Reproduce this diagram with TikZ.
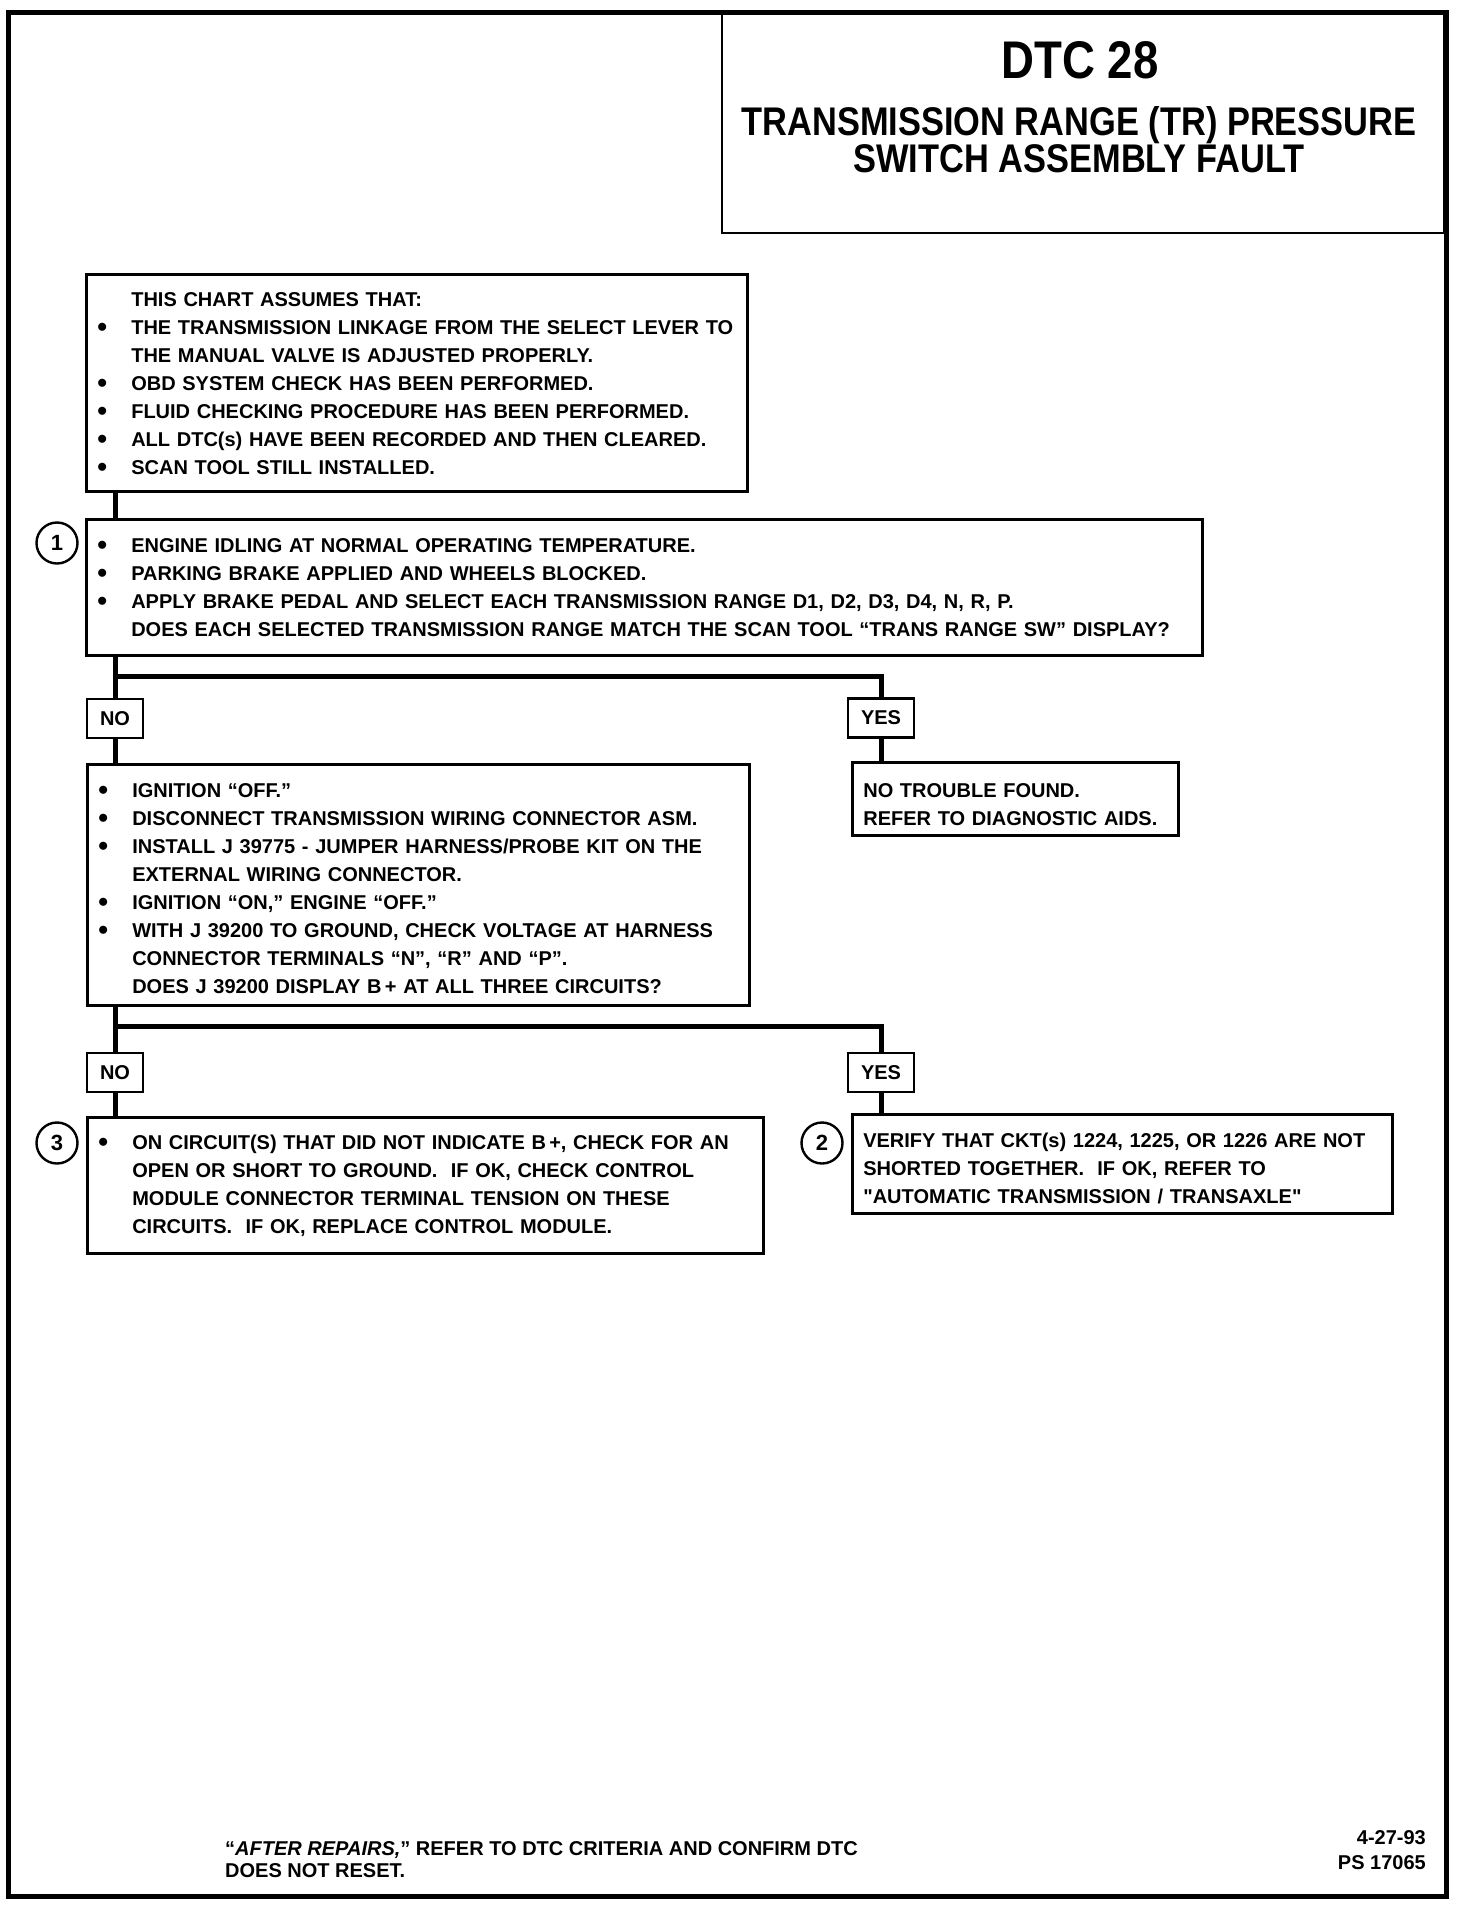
\documentclass[tikz,border=0pt]{standalone}
\usepackage{fontspec}
\setmainfont{Liberation Sans}
\newfontfamily\headfont{Liberation Sans}[FakeStretch=0.86]
\usetikzlibrary{positioning}

\newcommand{\bodyfont}{\fontsize{20}{28}\selectfont\bfseries}
\newcommand{\footfont}{\fontsize{20}{22}\selectfont\bfseries}
\newcommand{\datefont}{\fontsize{20}{25}\selectfont\bfseries}
\newcommand{\dtcfont}{\headfont\fontsize{53}{60}\selectfont\bfseries}
\newcommand{\captionfont}{\headfont\fontsize{40}{36}\selectfont\bfseries}
\newcommand{\bul}{\makebox[34pt][l]{\raisebox{-2pt}{\fontsize{28}{28}\selectfont\textbullet}}}
\newcommand{\ind}{\makebox[34pt]{}}

\tikzset{
  pageframe/.style={draw, line width=5pt},
  titleframe/.style={draw, line width=2.5pt},
  stepbox/.style={draw, line width=2.6pt, anchor=north west, align=left, inner xsep=11pt, inner ysep=0pt, font=\bodyfont},
  answer/.style={draw, line width=2.6pt, minimum height=39pt, inner sep=0pt, font=\bodyfont},
  stepnum/.style={draw, circle, line width=2.4pt, minimum size=41pt, inner sep=0pt, font=\fontsize{22}{22}\selectfont\bfseries},
  flowline/.style={line width=5pt}
}

\begin{document}
\begin{tikzpicture}[x=1pt, y=-1pt]
  \useasboundingbox (0,0) rectangle (1472,1906);
  \draw[pageframe] (8,12) rectangle (1446,1896);
  \draw[titleframe] (722,12) rectangle (1444,233);
  \node[font=\dtcfont] (dtc) at (1080,60) {DTC 28};
  \node[font=\captionfont, align=center] (caption) at (1079,140) {TRANSMISSION RANGE (TR) PRESSURE\\SWITCH ASSEMBLY FAULT};

  % chart assumptions and step 1
  \node[stepbox, text width=639pt, minimum height=217pt] (assume) at (85,273) {\rule{0pt}{17pt}\ind THIS CHART ASSUMES THAT:\\
    \bul THE TRANSMISSION LINKAGE FROM THE SELECT LEVER TO\\
    \ind THE MANUAL VALVE IS ADJUSTED PROPERLY.\\
    \bul OBD SYSTEM CHECK HAS BEEN PERFORMED.\\
    \bul FLUID CHECKING PROCEDURE HAS BEEN PERFORMED.\\
    \bul ALL DTC(s) HAVE BEEN RECORDED AND THEN CLEARED.\\
    \bul SCAN TOOL STILL INSTALLED.};
  \node[stepbox, text width=1094pt, minimum height=136pt] (step1) at (85,518) {\bul ENGINE IDLING AT NORMAL OPERATING TEMPERATURE.\\
    \bul PARKING BRAKE APPLIED AND WHEELS BLOCKED.\\
    \bul APPLY BRAKE PEDAL AND SELECT EACH TRANSMISSION RANGE D1, D2, D3, D4, N, R, P.\\
    \ind DOES EACH SELECTED TRANSMISSION RANGE MATCH THE SCAN TOOL “TRANS RANGE SW” DISPLAY?};
  \node[stepnum] (num1) at (57,543) {1};

  \node[answer, minimum width=56pt] (no1) at (115,718.5) {NO};
  \node[answer, minimum width=66pt] (yes1) at (881,718) {YES};

  \node[stepbox, text width=640pt, minimum height=241pt] (check) at (86,763) {\rule{0pt}{22pt}\bul IGNITION “OFF.”\\
    \bul DISCONNECT TRANSMISSION WIRING CONNECTOR ASM.\\
    \bul INSTALL J 39775 - JUMPER HARNESS/PROBE KIT ON THE\\
    \ind EXTERNAL WIRING CONNECTOR.\\
    \bul IGNITION “ON,” ENGINE “OFF.”\\
    \bul WITH J 39200 TO GROUND, CHECK VOLTAGE AT HARNESS\\
    \ind CONNECTOR TERMINALS “N”, “R” AND “P”.\\
    \ind DOES J 39200 DISPLAY B\,+ AT ALL THREE CIRCUITS?};
  \node[stepbox, text width=304pt, minimum height=73pt] (ntf) at (851,761) {\rule{0pt}{25pt}NO TROUBLE FOUND.\\REFER TO DIAGNOSTIC AIDS.};

  \node[answer, minimum width=56pt] (no2) at (115,1072.5) {NO};
  \node[answer, minimum width=66pt] (yes2) at (881,1072.5) {YES};

  \node[stepbox, text width=654pt, minimum height=136pt] (repair) at (86,1116) {\bul ON CIRCUIT(S) THAT DID NOT INDICATE B\,+, CHECK FOR AN\\
    \ind OPEN OR SHORT TO GROUND.\ \ IF OK, CHECK CONTROL\\
    \ind MODULE CONNECTOR TERMINAL TENSION ON THESE\\
    \ind CIRCUITS.\ \ IF OK, REPLACE CONTROL MODULE.};
  \node[stepnum] (num3) at (57,1143) {3};
  \node[stepbox, text width=518pt, minimum height=99pt] (verify) at (851,1113) {\rule{0pt}{24pt}VERIFY THAT CKT(s) 1224, 1225, OR 1226 ARE NOT\\
    SHORTED TOGETHER.\ \ IF OK, REFER TO\\
    \textquotedbl AUTOMATIC TRANSMISSION / TRANSAXLE\textquotedbl};
  \node[stepnum] (num2) at (822,1143) {2};

  % connectors
  \coordinate (fork1) at (115,676);
  \coordinate (fork2) at (115,1026);
  \draw[flowline] (assume.south -| fork1) -- (step1.north -| fork1);
  \draw[flowline] (step1.south -| fork1) -- (fork1) -| (yes1.north);
  \draw[flowline] (fork1) -- (no1.north);
  \draw[flowline] (no1.south) -- (check.north -| no1);
  \draw[flowline] (yes1.south) -- (ntf.north -| yes1);
  \draw[flowline] (check.south -| fork2) -- (fork2) -| (yes2.north);
  \draw[flowline] (fork2) -- (no2.north);
  \draw[flowline] (no2.south) -- (repair.north -| no2);
  \draw[flowline] (yes2.south) -- (verify.north -| yes2);

  \node[anchor=north west, align=left, inner sep=0pt, font=\footfont] (afterrep) at (225,1841) {“\textit{AFTER REPAIRS,}” REFER TO DTC CRITERIA AND CONFIRM DTC\\DOES NOT RESET.};
  \node[anchor=north east, align=right, inner sep=0pt, font=\datefont] (psnum) at (1426,1830) {4-27-93\\PS 17065};
\end{tikzpicture}
\end{document}
